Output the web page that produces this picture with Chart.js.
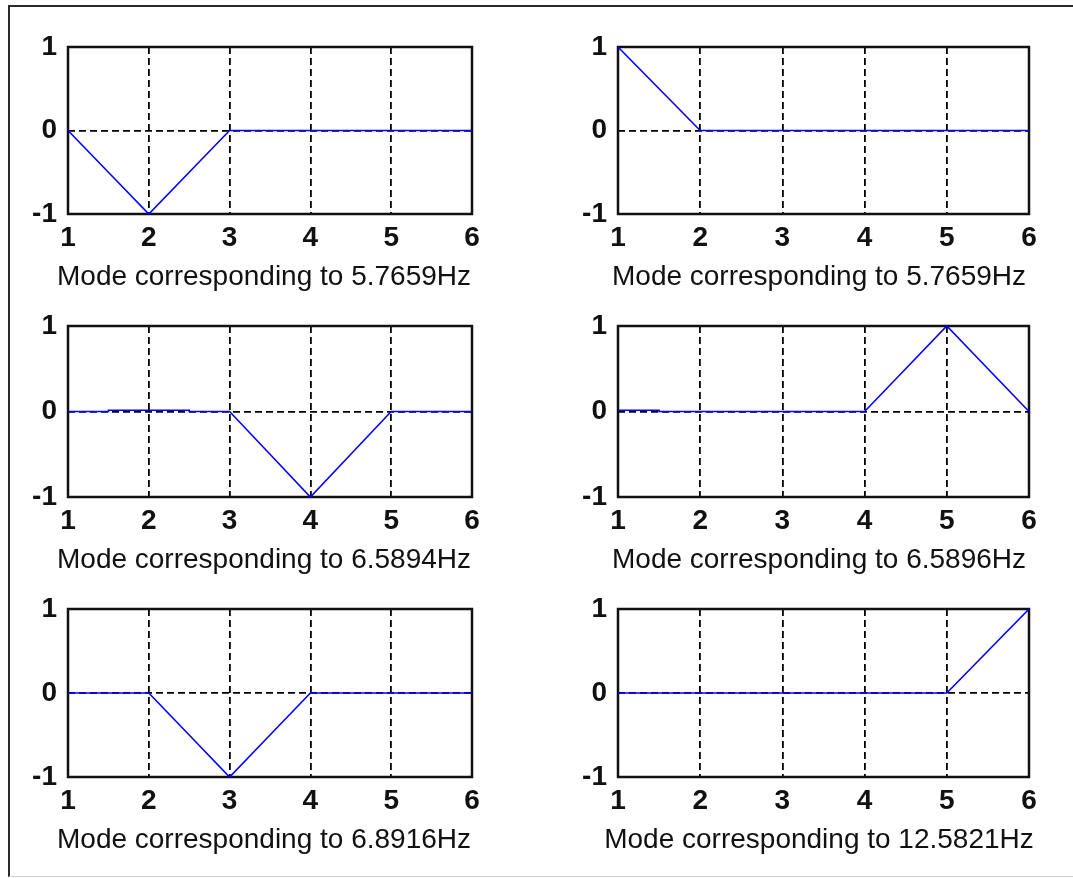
<!DOCTYPE html>
<html>
<head>
<meta charset="utf-8">
<script src="https://cdn.jsdelivr.net/npm/chart.js@4.4.0/dist/chart.umd.min.js"></script>
<style>
  html, body { margin: 0; padding: 0; background: #fff; }
  body { width: 1073px; height: 878px; position: relative; overflow: hidden; }
  #frame {
    position: absolute; left: 8px; top: 5px; width: 1070px; height: 869px;
    border-left: 2px solid #2a2a2a; border-top: 2px solid #2a2a2a; border-bottom: 1px solid #d0d0d0;
  }
  canvas { position: absolute; }
</style>
</head>
<body>
<div id="frame"></div>
<script>
// node positions along the beam
const nodesHalf = [1, 1.5, 2, 2.5, 3, 3.5, 4, 4.5, 5, 5.5, 6];
const xTicks = [1, 2, 3, 4, 5, 6];
const yTicks = [-1, 0, 1];

// mode shapes
const mode1X = nodesHalf;
const mode1Y = [0, -0.5, -1, -0.5, 0, 0, 0, 0, 0, 0, 0];
const mode2X = nodesHalf;
const mode2Y = [1, 0.5, 0, 0, 0, 0, 0, 0, 0, 0, 0];
const mode3X = [1, 1.5, 1.5, 2.5, 2.5, 3, 3.5, 4, 4.5, 5, 5.5, 6];
const mode3Y = [0, 0, 0.015, 0.015, 0, 0, -0.5, -1, -0.5, 0, 0, 0];
const mode4X = [1, 1.5, 1.5, 2, 3, 4, 4.5, 5, 5.5, 6];
const mode4Y = [0.015, 0.015, 0, 0, 0, 0, 0.5, 1, 0.5, 0];
const mode5X = nodesHalf;
const mode5Y = [0, 0, 0, -0.5, -1, -0.5, 0, 0, 0, 0, 0];
const mode6X = nodesHalf;
const mode6Y = [0, 0, 0, 0, 0, 0, 0, 0, 0, 0.5, 1];

const freqs = ["5.7659", "5.7659", "6.5894", "6.5896", "6.8916", "12.5821"];
const modesX = [mode1X, mode2X, mode3X, mode4X, mode5X, mode6X];
const modesY = [mode1Y, mode2Y, mode3Y, mode4Y, mode5Y, mode6Y];

// subplot layout
const cols = [
  { left: 68, right: 472, cx: 0, cw: 540, captionX: 264 },
  { left: 618, right: 1029, cx: 540, cw: 533, captionX: 819 },
];
const rows = [
  { top: 47, bottom: 214 },
  { top: 326, bottom: 497 },
  { top: 609, bottom: 777 },
];
const padTop = 40;
const xAxisH = 80;
const fontFamily = "'Liberation Sans', Arial, sans-serif";

const boxPlugin = {
  id: "box",
  beforeDatasetsDraw(chart) {
    const { ctx, chartArea: a } = chart;
    ctx.save();
    ctx.strokeStyle = "#111";
    ctx.lineWidth = 2.5;
    ctx.strokeRect(a.left, a.top, a.right - a.left, a.bottom - a.top);
    ctx.restore();
  },
};

// xlabel under each subplot (drawn without the axis title's width limit)
const captionPlugin = {
  id: "caption",
  afterDraw(chart, args, opts) {
    const { ctx, chartArea: a } = chart;
    ctx.save();
    ctx.font = "28px " + fontFamily;
    ctx.fillStyle = "#111";
    ctx.textAlign = "center";
    ctx.textBaseline = "middle";
    ctx.fillText(opts.text, opts.x, a.bottom + 63);
    ctx.restore();
  },
};

freqs.forEach((f, i) => {
  const col = cols[i % 2];
  const row = rows[Math.floor(i / 2)];
  const canvas = document.createElement("canvas");
  const h = row.bottom - row.top + padTop + xAxisH;
  canvas.width = col.cw;
  canvas.height = h;
  canvas.style.left = col.cx + "px";
  canvas.style.top = row.top - padTop + "px";
  canvas.style.width = col.cw + "px";
  canvas.style.height = h + "px";
  document.body.appendChild(canvas);

  const pts = modesX[i].map((x, k) => ({ x: x, y: modesY[i][k] }));

  new Chart(canvas.getContext("2d"), {
    type: "line",
    data: {
      datasets: [
        {
          data: pts,
          borderColor: "#0000ff",
          borderWidth: 1.6,
          pointRadius: 0,
          tension: 0,
          fill: false,
          clip: 4,
        },
      ],
    },
    options: {
      responsive: false,
      animation: false,
      devicePixelRatio: 1,
      layout: { padding: { top: padTop, right: col.cx + col.cw - col.right, left: 0, bottom: 0 } },
      plugins: {
        legend: { display: false },
        tooltip: { enabled: false },
        caption: { text: "Mode corresponding to " + f + "Hz", x: col.captionX - col.cx },
      },
      scales: {
        x: {
          type: "linear",
          min: 1,
          max: 6,
          afterBuildTicks: (s) => { s.ticks = xTicks.map((v) => ({ value: v })); },
          afterFit: (s) => { s.height = xAxisH; },
          ticks: { color: "#111", padding: 7, font: { family: fontFamily, size: 28, weight: "bold" } },
          grid: { color: "#000", lineWidth: 1.8, drawTicks: false },
          border: { display: false, dash: [7, 4] },
        },
        y: {
          type: "linear",
          min: -1,
          max: 1,
          afterBuildTicks: (s) => { s.ticks = yTicks.map((v) => ({ value: v })); },
          afterFit: (s) => { s.width = col.left - col.cx; },
          ticks: { color: "#111", padding: 11, font: { family: fontFamily, size: 28, weight: "bold" } },
          grid: { color: "#000", lineWidth: 1.8, drawTicks: false },
          border: { display: false, dash: [7, 4] },
        },
      },
    },
    plugins: [boxPlugin, captionPlugin],
  });
});
</script>
</body>
</html>
